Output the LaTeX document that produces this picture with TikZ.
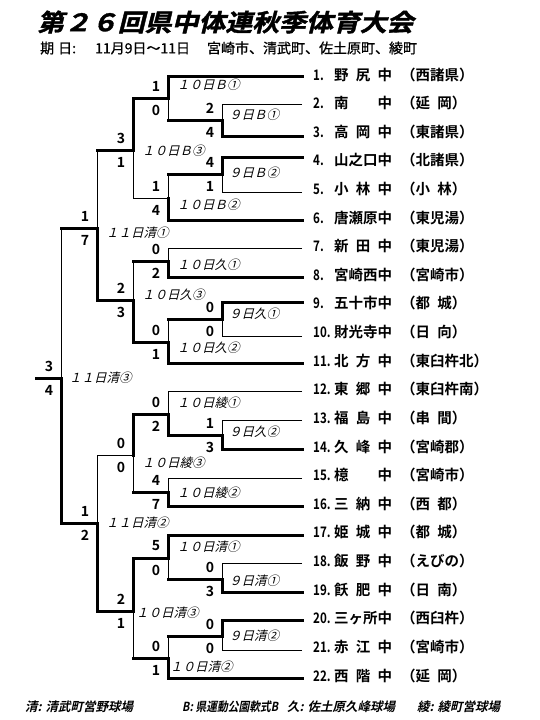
\documentclass[tikz,border=0pt]{standalone}
\usepackage{fontspec}
\setmainfont{Noto Sans CJK JP}
\newfontfamily\jpmed{Noto Sans CJK JP}[FakeBold=0.8]
\newfontfamily\jpbold{Noto Sans CJK JP Bold}
\newfontfamily\jpslant{Noto Sans CJK JP}[FakeSlant=0.25]
\newfontfamily\jpboldslant{Noto Sans CJK JP Bold}[FakeSlant=0.22]
\newfontfamily\jptitle{Noto Sans CJK JP Bold}[FakeSlant=0.22, FakeBold=1.5]
\newcommand\hs{\hspace{0.5em}}

\begin{document}
\begin{tikzpicture}[x=1pt, y=-1pt,
  win/.style  ={line width=3pt, line cap=rect},
  lose/.style ={line width=1pt},
  team/.style ={anchor=west, inner sep=0pt, font=\jpbold\fontsize{14.5}{14.5}\selectfont},
  score/.style={inner sep=0pt, font=\jpbold\fontsize{14}{14}\selectfont},
  venue/.style={anchor=west, inner sep=0pt, font=\jpslant\fontsize{12.5}{12.5}\selectfont},
]
\useasboundingbox (0,0) rectangle (540,720);

% ============================ heading =======================================
\node[anchor=west, inner sep=0pt, font=\jptitle\fontsize{24}{24}\selectfont]
  (title) at (37,22) {\scalebox{1.12}[1]{第２６回県中体連秋季体育大会}};
\node[anchor=west, inner sep=0pt, font=\jpmed\fontsize{14}{14}\selectfont]
  (dates) at (40,48) {\makebox[55pt][l]{期\hspace{4pt}日:}11月9日～11日\hspace{17pt}宮崎市、清武町、佐土原町、綾町};

% ============================ teams =========================================
\foreach \i/\nm/\ds in {1/{野\hfill 尻\hfill 中}/西諸県, 2/{南\hfill 中}/{延\hs 岡},
    3/{高\hfill 岡\hfill 中}/東諸県, 4/山之口中/北諸県, 5/{小\hfill 林\hfill 中}/{小\hs 林},
    6/唐瀬原中/東児湯, 7/{新\hfill 田\hfill 中}/東児湯, 8/宮崎西中/宮崎市,
    9/五十市中/{都\hs 城}, 10/財光寺中/{日\hs 向}, 11/{北\hfill 方\hfill 中}/東臼杵北,
    12/{東\hfill 郷\hfill 中}/東臼杵南, 13/{福\hfill 島\hfill 中}/{串\hs 間},
    14/{久\hfill 峰\hfill 中}/宮崎郡, 15/{檍\hfill 中}/宮崎市, 16/{三\hfill 納\hfill 中}/{西\hs 都},
    17/{姫\hfill 城\hfill 中}/{都\hs 城}, 18/{飯\hfill 野\hfill 中}/えびの,
    19/{飫\hfill 肥\hfill 中}/{日\hs 南}, 20/三ヶ所中/西臼杵, 21/{赤\hfill 江\hfill 中}/宮崎市,
    22/{西\hfill 階\hfill 中}/{延\hs 岡}} {
  \node[team] (t\i) at (313,{74.5+(\i-1)*28.62})
    {\makebox[21pt][l]{\scalebox{0.8}[1]{\i.}}\makebox[58pt][l]{\nm}\hspace{9pt}（\ds）};
}

% right ends of the team lines
\foreach \i/\y in {1/76, 2/104, 3/136, 4/157, 5/192, 6/220, 7/248, 8/277, 9/302,
    10/336, 11/363, 12/391, 13/420, 14/449, 15/478, 16/506, 17/535, 18/563,
    19/592, 20/620, 21/650, 22/678}
  \coordinate (e\i) at (302,\y);

% ============================ match junctions ===============================
% B (team 1-6)
\coordinate (b9a)  at (222,120);
\coordinate (b9b)  at (222,174);
\coordinate (b10a) at (168,98);
\coordinate (b10b) at (168,198);
\coordinate (b10c) at (133,150);
% kuhou (team 7-11)
\coordinate (k9a)  at (222,319);
\coordinate (k10a) at (168,261);
\coordinate (k10b) at (168,342);
\coordinate (k10c) at (133,300);
% aya (team 12-16)
\coordinate (k9b)  at (222,435);
\coordinate (y10a) at (168,414);
\coordinate (y10b) at (168,492);
\coordinate (y10c) at (133,455);
% kiyotake (team 17-22)
\coordinate (s9a)  at (222,579);
\coordinate (s9b)  at (222,636);
\coordinate (s10a) at (168,558);
\coordinate (s10b) at (168,658);
\coordinate (s10c) at (133,611);
% 11th
\coordinate (s11a) at (97,228);
\coordinate (s11b) at (97,523);
\coordinate (s11c) at (61,378);
\coordinate (champ) at (36,378);

% first entry of each team: thick for the winner of that match
\foreach \i/\m/\s in {1/b10a/win, 2/b9a/lose, 3/b9a/win, 4/b9b/win, 5/b9b/lose,
    6/b10b/win, 7/k10a/lose, 8/k10a/win, 9/k9a/win, 10/k9a/lose, 11/k10b/win,
    12/y10a/lose, 13/k9b/lose, 14/k9b/win, 15/y10b/lose, 16/y10b/win,
    17/s10a/win, 18/s9a/lose, 19/s9a/win, 20/s9b/win, 21/s9b/lose, 22/s10b/win}
  \draw[\s] (e\i) -| (\m);

% winner of one match into the next: line out, then half of the next bracket
\foreach \c/\p/\h/\v in {b9a/b10a/win/lose, b9b/b10b/win/lose, b10a/b10c/win/win,
    b10b/b10c/lose/lose, b10c/s11a/win/lose, k9a/k10b/win/lose, k10a/k10c/win/lose,
    k10b/k10c/win/win, k10c/s11a/win/win, s11a/s11c/win/lose, k9b/y10a/win/win,
    y10a/y10c/win/win, y10b/y10c/win/lose, y10c/s11b/lose/lose, s9a/s10a/win/lose,
    s9b/s10b/win/lose, s10a/s10c/win/win, s10b/s10c/win/lose, s10c/s11b/win/win,
    s11b/s11c/win/win} {
  \draw[\h] (\c) -- (\c -| \p);
  \draw[\v] (\c -| \p) -- (\p);
}
\draw[win] (s11c) -- (champ);

% scores: upper team above the line out, lower team below it
\foreach \m/\u/\l in {b9a/2/4, b9b/4/1, b10a/1/0, b10b/1/4, b10c/3/1, k9a/0/0,
    k10a/0/2, k10b/0/1, k10c/2/3, s11a/1/7, k9b/1/3, y10a/0/2, y10b/4/7, y10c/0/0,
    s9a/0/3, s9b/0/0, s10a/5/0, s10b/0/1, s10c/2/1, s11b/1/2, s11c/3/4} {
  \node[score] (\m u) at ([shift={(-12,-12)}]\m) {\u};
  \node[score] (\m l) at ([shift={(-12,12)}]\m) {\l};
}

% day and ground of each match
\foreach \m/\x/\y/\t in {b9a/229/115/９日Ｂ①, b9b/229/173/９日Ｂ②, k9a/229/314/９日久①,
    k9b/229/432/９日久②, s9a/229/581/９日清①, s9b/229/636/９日清②,
    b10a/177/85/１０日Ｂ①, b10b/177/205/１０日Ｂ②, k10a/177/265/１０日久①,
    k10b/177/348/１０日久②, y10a/177/403/１０日綾①, y10b/177/493/１０日綾②,
    s10a/177/547/１０日清①, s10b/170/667/１０日清②, b10c/142/151/１０日Ｂ③,
    k10c/142/295/１０日久③, y10c/142/463/１０日綾③, s10c/136/613/１０日清③,
    s11a/106/233/１１日清①, s11b/106/523/１１日清②, s11c/69/378/１１日清③}
  \node[venue] (v\m) at (\x,\y) {\t};

% ============================ grounds =======================================
\node[anchor=west, inner sep=0pt, font=\jpboldslant\fontsize{12.5}{12.5}\selectfont]
  (legend) at (25,707) {\makebox[157pt][l]{清: 清武町営野球場}\makebox[105pt][l]{\scalebox{0.86}[1]{B:\hspace{3pt}県運動公園軟式B}}\makebox[130pt][l]{久: 佐土原久峰球場}綾: 綾町営球場};

\end{tikzpicture}
\end{document}
